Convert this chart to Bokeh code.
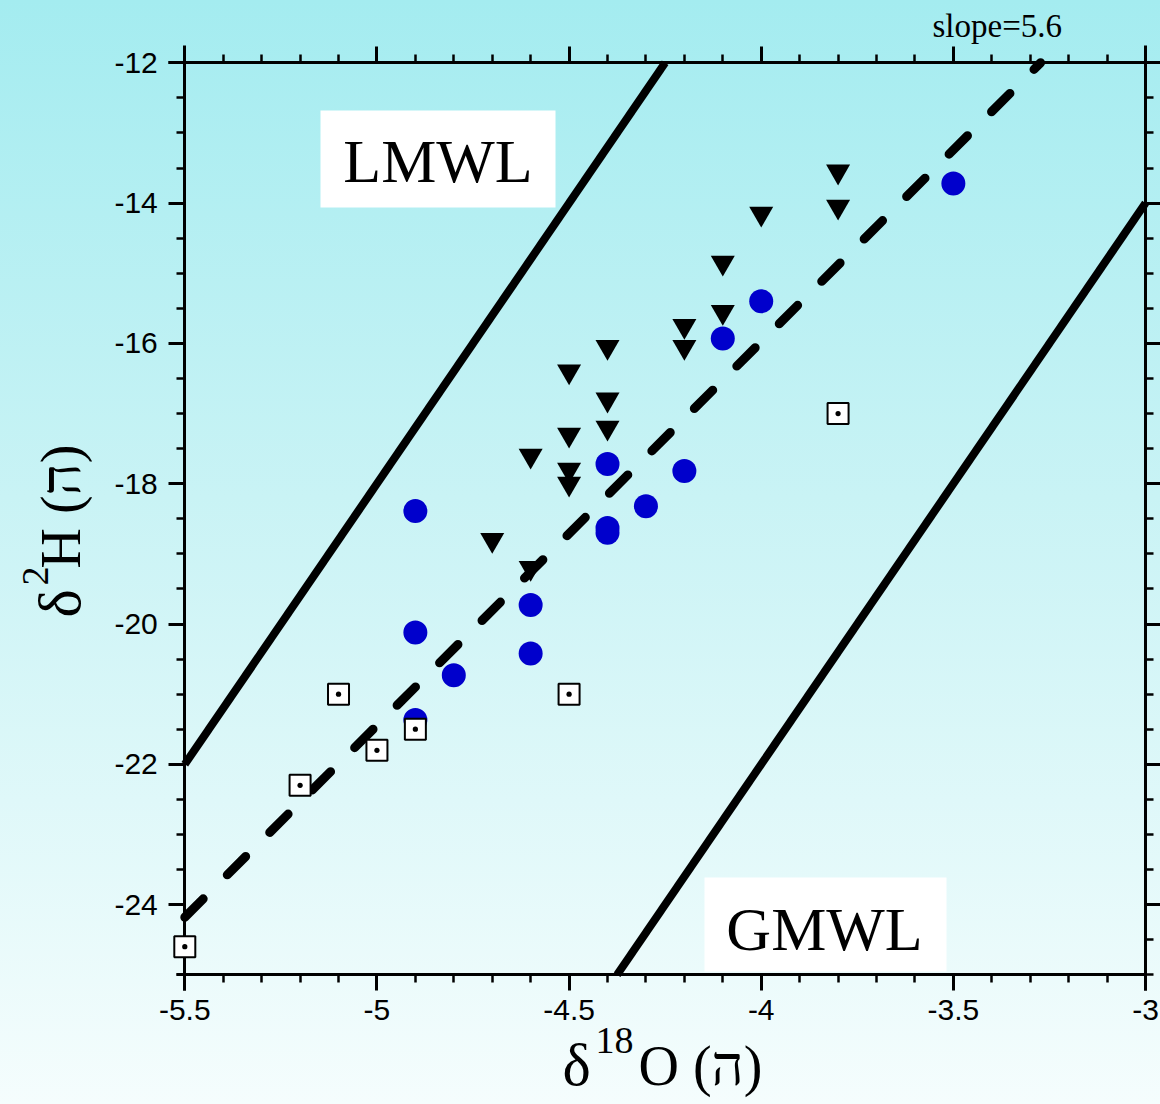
import numpy as np
from bokeh.plotting import figure
from bokeh.models import (Range1d, LinearAxis, FixedTicker, PrintfTickFormatter,
                          Label, BoxAnnotation)
from bokeh.embed import file_html
from bokeh.resources import INLINE

# ---------------- data ----------------
# blue circles
circle_x = [-3.5, -4.0, -4.1, -4.4, -4.2, -4.3, -4.4, -4.4, -4.9, -4.6, -4.9, -4.6, -4.8, -4.9]
circle_y = [-13.72, -15.40, -15.93, -17.72, -17.82, -18.32, -18.63, -18.70, -18.39, -19.73,
            -20.12, -20.42, -20.73, -21.37]
# black inverted triangles
tri_x = [-3.8, -3.8, -4.0, -4.1, -4.1, -4.2, -4.2, -4.4, -4.5, -4.4, -4.4, -4.5, -4.6,
         -4.5, -4.5, -4.7, -4.6]
tri_y = [-13.55, -14.05, -14.15, -14.85, -15.55, -15.75, -16.05, -16.05, -16.40, -16.80,
         -17.20, -17.30, -17.60, -17.80, -18.00, -18.80, -19.20]
# open squares with dot
sq_x = [-3.8, -4.5, -5.1, -4.9, -5.0, -5.2, -5.5]
sq_y = [-17.0, -21.0, -21.0, -21.5, -21.8, -22.3, -24.6]
# reference lines
lmwl_x = [-5.5, -4.25]
lmwl_y = [-22.0, -12.0]
gmwl_x = [-4.375, -3.0]
gmwl_y = [-25.0, -14.0]
fit_x = [-5.5, -3.273]
fit_y = [-24.18, -12.0]
# ticks
x_major = [-5.5, -5.0, -4.5, -4.0, -3.5, -3.0]
x_minor = [round(-5.5 + 0.1 * i, 2) for i in range(26)]
y_major = [-12, -14, -16, -18, -20, -22, -24]
y_minor = [-12 - 0.5 * i for i in range(27)]

# ---------------- layout (page pixels -> data) ----------------
W, H = 1160, 1104
PX0, X0, KX = 184.3, -5.5, 384.28
PY0, Y0, KY = 62.3, -12.0, 70.15


def xd(px):
    return X0 + (px - PX0) / KX


def yd(py):
    return Y0 - (py - PY0) / KY


p = figure(width=W, height=H, output_backend="svg", toolbar_location=None,
           x_range=Range1d(xd(0), xd(W)), y_range=Range1d(yd(H), yd(0)),
           x_axis_location=None, y_axis_location=None,
           min_border=0, min_border_left=0, min_border_right=0,
           min_border_top=0, min_border_bottom=0)
p.background_fill_color = None
p.border_fill_color = None
p.outline_line_color = None
p.grid.visible = False
p.title.visible = False

SANS = "Liberation Sans"
SERIF = "Liberation Serif"


def style_axis(ax, show_labels):
    ax.axis_line_width = 3
    ax.axis_line_color = "black"
    ax.major_tick_line_width = 3
    ax.minor_tick_line_width = 2.5
    ax.major_tick_line_color = "black"
    ax.minor_tick_line_color = "black"
    ax.major_tick_out = 16
    ax.major_tick_in = 0
    ax.minor_tick_out = 8
    ax.minor_tick_in = 0
    ax.level = "underlay"
    if show_labels:
        ax.major_label_text_font = SANS
        ax.major_label_text_font_size = "30px"
        ax.major_label_text_color = "black"
    else:
        ax.major_label_text_color = None


xfmt = PrintfTickFormatter(format="%g")
yfmt = PrintfTickFormatter(format="%g")

bottom = LinearAxis(fixed_location=-25.0, ticker=FixedTicker(ticks=x_major, minor_ticks=x_minor),
                    formatter=xfmt, bounds=(xd(176), -3.0), major_label_standoff=9)
style_axis(bottom, True)
p.add_layout(bottom, "below")

left = LinearAxis(fixed_location=-5.5, ticker=FixedTicker(ticks=y_major, minor_ticks=y_minor),
                  formatter=yfmt, bounds=(yd(990), yd(45)), major_label_standoff=11)
style_axis(left, True)
p.add_layout(left, "left")

top = LinearAxis(fixed_location=-12.0, ticker=FixedTicker(ticks=x_major, minor_ticks=x_minor),
                 bounds=(xd(167.7), xd(1160)))
style_axis(top, False)
p.add_layout(top, "above")

right = LinearAxis(fixed_location=-3.0, ticker=FixedTicker(ticks=y_major, minor_ticks=y_minor),
                   bounds=(yd(990), yd(45)))
style_axis(right, False)
p.add_layout(right, "right")

# ---------------- lines ----------------
p.line(lmwl_x, lmwl_y, line_width=8, line_color="black")
p.line(gmwl_x, gmwl_y, line_width=8, line_color="black")
p.line(fit_x, fit_y, line_width=9, line_color="black", line_dash="26 34", line_cap="round")

# ---------------- markers ----------------
p.scatter(circle_x, circle_y, marker="circle", size=24, fill_color="#0000cc", line_color=None)
p.scatter(tri_x, tri_y, marker="inverted_triangle", size=24, fill_color="black", line_color=None)
p.scatter(sq_x, sq_y, marker="square_dot", size=21, fill_color="white",
          line_color="black", line_width=2)

# ---------------- label boxes ----------------
p.add_layout(BoxAnnotation(left=xd(320), right=xd(555), top=yd(110), bottom=yd(207),
                           fill_color="white", fill_alpha=1.0, line_color=None))
p.add_layout(BoxAnnotation(left=xd(704), right=xd(946), top=yd(877), bottom=yd(971),
                           fill_color="white", fill_alpha=1.0, line_color=None))

BASE_SHIFT = 0.35  # baseline correction, in em


def lab(px, py, text, fs, align="left", rotated=False, font=SERIF):
    if rotated:
        x, y, ang = xd(px - BASE_SHIFT * fs), yd(py), np.pi / 2
    else:
        x, y, ang = xd(px), yd(py - BASE_SHIFT * fs), 0.0
    p.add_layout(Label(x=x, y=y, text=text, text_font=font, text_font_size=f"{fs}px",
                       text_align=align, text_baseline="alphabetic", angle=ang,
                       text_color="black"))


lab(437.5, 181.7, "LMWL", 62, align="center")
lab(824, 950, "GMWL", 62, align="center")
lab(932, 36.7, "slope=5.6", 33)

# x axis title: δ18O (ה)
lab(562, 1085, "δ", 60)
lab(595, 1053, "18", 38)
lab(638, 1085, "O (ה)", 56)

# y axis title: δ2H (ה), rotated
lab(80, 617, "δ", 60, rotated=True)
lab(48, 585, "2", 38, rotated=True)
lab(80, 568, "H (ה)", 56, rotated=True)

html = file_html(p, INLINE, title="isotopes")
css = ("<style>html{height:100%;background:linear-gradient(to bottom,#a4ecf0 0%,#c9f3f5 45%,#f5fdfd 100%);}"
       "body{background:transparent;}</style>")
html = html.replace("<head>", "<head>\n" + css, 1)
open("out.html", "w").write(html)
